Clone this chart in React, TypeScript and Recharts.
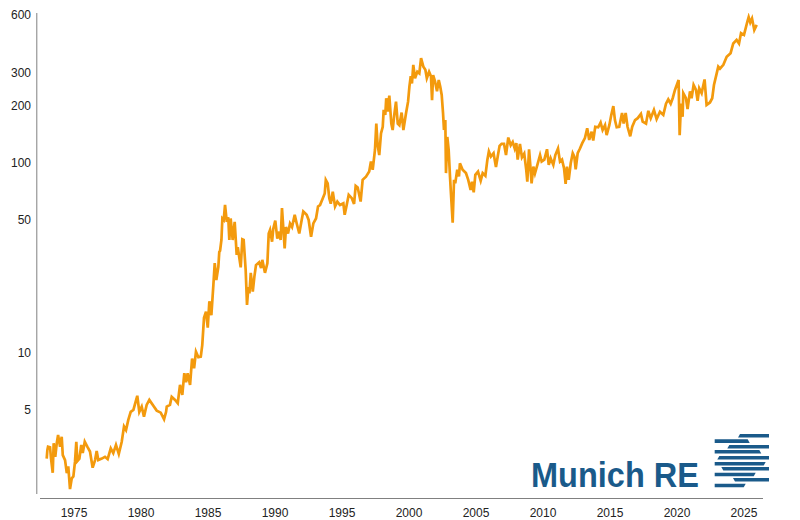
import { LineChart, Line, XAxis, YAxis } from "recharts";

const YEAR_TICKS = [1975, 1980, 1985, 1990, 1995, 2000, 2005, 2010, 2015, 2020, 2025];
const PRICE_TICKS = [5, 10, 50, 100, 200, 300, 600];

const years = [
  1972.96, 1973.01, 1973.06, 1973.21, 1973.28, 1973.41, 1973.48, 1973.6, 1973.71, 1973.81, 1973.96, 1974.08, 1974.16, 1974.33, 1974.46, 1974.57, 1974.7, 1974.83, 1974.95,
  1975.07, 1975.17, 1975.25, 1975.4, 1975.54, 1975.65, 1975.8, 1975.99, 1976.19, 1976.39, 1976.57, 1976.69, 1976.81, 1977.07, 1977.31, 1977.51, 1977.74, 1977.93,
  1978.13, 1978.34, 1978.56, 1978.73, 1978.88, 1979.05, 1979.23, 1979.43, 1979.72, 1979.87, 1980.05, 1980.22, 1980.42, 1980.62, 1980.92, 1981.17, 1981.47, 1981.72, 1981.87,
  1981.92, 1982.16, 1982.29, 1982.54, 1982.74, 1982.91, 1983.08, 1983.23, 1983.36, 1983.48, 1983.66, 1983.81, 1983.96, 1984.1, 1984.28, 1984.46, 1984.57, 1984.7, 1984.85, 1984.98,
  1985.1, 1985.25, 1985.4, 1985.5, 1985.62, 1985.77, 1985.84, 1985.9, 1986.0, 1986.07, 1986.17, 1986.27, 1986.4, 1986.51, 1986.59, 1986.69, 1986.84, 1986.99,
  1987.14, 1987.22, 1987.44, 1987.56, 1987.66, 1987.81, 1987.91, 1988.01, 1988.09, 1988.19, 1988.34, 1988.46, 1988.58, 1988.81, 1988.96, 1989.05, 1989.25, 1989.43, 1989.53, 1989.63, 1989.78, 1989.87,
  1990.02, 1990.17, 1990.32, 1990.42, 1990.52, 1990.72, 1990.82, 1990.97, 1991.12, 1991.27, 1991.47, 1991.62, 1991.81, 1991.99, 1992.11, 1992.36, 1992.51, 1992.69, 1992.86,
  1993.06, 1993.21, 1993.36, 1993.56, 1993.71, 1993.79, 1993.93, 1994.05, 1994.16, 1994.31, 1994.48, 1994.65, 1994.85, 1995.1, 1995.2, 1995.35, 1995.5, 1995.73, 1995.9,
  1996.02, 1996.17, 1996.39, 1996.54, 1996.79, 1997.03, 1997.16, 1997.29, 1997.46, 1997.56, 1997.66, 1997.78, 1997.91, 1998.04, 1998.11, 1998.23, 1998.3, 1998.41, 1998.53, 1998.68, 1998.78, 1998.9,
  1999.03, 1999.16, 1999.28, 1999.45, 1999.58, 1999.78, 1999.93, 2000.03, 2000.13, 2000.22, 2000.32, 2000.45, 2000.62, 2000.77, 2000.9,
  2001.07, 2001.22, 2001.33, 2001.5, 2001.64, 2001.72, 2001.8, 2001.94, 2002.09, 2002.22, 2002.33, 2002.44, 2002.54, 2002.61, 2002.71, 2002.76, 2002.86, 2002.96,
  2003.06, 2003.13, 2003.26, 2003.36, 2003.45, 2003.6, 2003.73, 2003.8, 2004.0, 2004.25, 2004.42, 2004.6, 2004.7, 2004.83, 2004.95, 2005.15, 2005.35, 2005.5, 2005.7, 2005.85, 2005.96,
  2006.11, 2006.31, 2006.49, 2006.64, 2006.76, 2006.91, 2007.09, 2007.24, 2007.41, 2007.59, 2007.74, 2007.89, 2008.01, 2008.11, 2008.28, 2008.43, 2008.6, 2008.75, 2008.83, 2008.96,
  2009.05, 2009.15, 2009.28, 2009.4, 2009.58, 2009.78, 2009.9, 2010.1, 2010.3, 2010.43, 2010.57, 2010.77, 2010.92, 2011.12, 2011.27, 2011.42, 2011.57, 2011.69, 2011.79, 2011.92,
  2012.07, 2012.22, 2012.34, 2012.44, 2012.59, 2012.76, 2012.93, 2013.13, 2013.3, 2013.45, 2013.63, 2013.75, 2013.9, 2014.12, 2014.3, 2014.45, 2014.63, 2014.75, 2014.95,
  2015.1, 2015.25, 2015.37, 2015.5, 2015.69, 2015.9, 2016.02, 2016.17, 2016.31, 2016.51, 2016.66, 2016.87, 2017.07, 2017.31, 2017.44, 2017.69, 2017.86,
  2018.04, 2018.28, 2018.48, 2018.73, 2018.98, 2019.18, 2019.35, 2019.53, 2019.68, 2019.85, 2020.12, 2020.2, 2020.3, 2020.42, 2020.47, 2020.67, 2020.79, 2020.97,
  2021.09, 2021.24, 2021.42, 2021.54, 2021.66, 2021.84, 2022.06, 2022.21, 2022.46, 2022.63, 2022.76, 2022.96, 2023.08, 2023.21, 2023.46, 2023.71,
  2024.0, 2024.2, 2024.45, 2024.63, 2024.78, 2025.0, 2025.25, 2025.35, 2025.47, 2025.6, 2025.77, 2025.95,
];

const prices = [
  2.78, 3.09, 3.21, 3.19, 2.8, 2.34, 3.35, 2.84, 3.35, 3.7, 3.21, 3.62, 2.9, 2.73, 2.33, 2.53, 1.92, 2.19, 2.24,
  2.67, 3.41, 2.7, 2.78, 3.28, 2.97, 3.41, 3.21, 3.03, 2.49, 2.73, 3.05, 2.73, 2.78, 2.84, 2.76, 3.15, 2.97,
  3.28, 2.94, 3.41, 4.1, 3.93, 4.44, 4.9, 5.01, 5.95, 4.9, 5.22, 4.62, 5.33, 5.66, 5.27, 4.97, 4.85, 4.48, 4.9,
  5.22, 5.33, 5.88, 5.66, 5.44, 6.79, 6.01, 7.82, 7.02, 7.82, 6.79, 9.35, 8.3, 10.15, 9.5, 9.56, 11.0, 15.3, 16.5, 13.6,
  18.7, 15.8, 22.8, 29.7, 24.2, 28.4, 34, 34.5, 39.3, 51, 50.1, 60.1, 49, 51.8, 39.3, 51, 39.3, 49,
  32.8, 36, 28.2, 39.6, 39.3, 27.3, 17.9, 22.2, 20.6, 26.4, 21, 25.2, 29, 30, 28, 30.9, 26.4, 29.6, 42.5, 44.4, 38.5, 45,
  49.7, 40, 43.5, 39.3, 57.8, 35.5, 46, 42.5, 48, 46, 53.3, 48, 42.5, 50, 55.5, 53.3, 50.1, 40.9, 48,
  51, 59, 60, 65, 69, 81.4, 78, 65.2, 61, 70.6, 59, 62.6, 60, 61.3, 53.3, 60, 67.9, 65.2, 60.8,
  75.7, 74.2, 62.6, 81.4, 84.7, 90, 101.6, 92, 117, 161, 124, 110, 143, 155, 190, 179, 219, 186, 226, 161, 149, 179,
  210, 161, 158, 184, 149, 183, 210, 252, 286, 262, 328, 279, 302, 296, 356,
  321, 309, 279, 302, 286, 214, 290, 269, 238, 273, 252, 228, 183, 149, 168, 88.4, 137, 117,
  84.7, 69, 48.5, 81.4, 78, 92, 85, 99.6, 92, 88.4, 81.4, 72, 79.7, 70, 86.5, 90, 80.6, 88.4, 85.6, 104, 115,
  108, 112.5, 95, 110, 123, 126, 126, 110, 136, 124, 129, 119, 127, 104, 126, 107, 112, 92, 79.7, 118,
  97.6, 78, 95.6, 88, 97.6, 110, 101.6, 104, 118, 97.6, 105.8, 97.6, 110, 119, 101.6, 104, 93.8, 77.5, 95.6, 81.4,
  99.6, 112.5, 108, 92.6, 112.5, 119, 127, 135, 152, 132, 146, 131, 155, 154, 163, 149, 158, 140, 158,
  179, 199, 168, 154, 155, 183, 161, 183, 155, 138, 155, 168, 172, 181, 165, 161, 188,
  172, 190, 170, 186, 179, 205, 216, 205, 219, 242, 273, 140, 205, 175, 233, 219, 192, 238,
  219, 257, 242, 212, 247, 233, 275, 202, 208, 219, 257, 295, 321, 313, 328, 362,
  378, 425, 444, 425, 482, 472, 553, 585, 548, 575, 501, 533,
];

const chartData = years.map((year, i) => ({ year, price: prices[i] }));

// left edge, right edge, top of each logo stripe; ends are cut at a slant
const LOGO_STRIPES = [
  [738, 769, 434],
  [714.7, 749.7, 439.3],
  [727.3, 769, 445],
  [714.7, 761.3, 450],
  [717.3, 769, 456],
  [714.7, 765.7, 462],
  [721.3, 769, 467],
  [714.7, 755.7, 472.7],
  [733, 769, 478],
  [714.7, 745.7, 483.7],
];

const tickStyle = { fontFamily: "Liberation Sans, Arial, sans-serif", fontSize: 12, fill: "#222" };

function Logo() {
  return (
    <svg width={800} height={520} style={{ position: "absolute", left: 0, top: 0, pointerEvents: "none" }}>
      <text
        x={531}
        y={486.7}
        fontFamily="Liberation Sans, Arial, sans-serif"
        fontWeight="bold"
        fontSize={35}
        fill="#1a5a8a"
        textLength={168}
        lengthAdjust="spacingAndGlyphs"
      >
        Munich RE
      </text>
      {LOGO_STRIPES.map(([a, b, y], i) => {
        const h = 3.6;
        // left-anchored stripes are cut on the right, right-anchored ones on the left
        const pts =
          i % 2 === 1
            ? `${a},${y} ${b - (i < 5 ? 2 : 0)},${y} ${b - (i < 5 ? 0 : 2)},${y + h} ${a},${y + h}`
            : `${a + (i < 5 ? 2 : 0)},${y} ${b},${y} ${b},${y + h} ${a + (i < 5 ? 0 : 2)},${y + h}`;
        return <polygon key={i} points={pts} fill="#1a5a8a" />;
      })}
    </svg>
  );
}

export default function App() {
  return (
    <div style={{ position: "absolute", left: 0, top: 0, width: 800, height: 520, background: "#fff" }}>
      <LineChart width={800} height={520} data={chartData} margin={{ top: 13, right: 37, bottom: 0, left: 0 }}>
        <XAxis
          dataKey="year"
          type="number"
          domain={[1972.46, 2026.42]}
          ticks={YEAR_TICKS}
          height={26}
          allowDataOverflow
          axisLine={{ stroke: "#808080", transform: "translate(0 4.5)" }}
          tickLine={false}
          tick={tickStyle}
          tickMargin={8}
          interval={0}
        />
        <YAxis
          type="number"
          scale="log"
          domain={[1.81, 615]}
          ticks={PRICE_TICKS}
          width={40}
          allowDataOverflow
          axisLine={{ stroke: "#808080", transform: "translate(-3.2 0)" }}
          tickLine={false}
          tick={tickStyle}
          tickMargin={3}
          interval={0}
        />
        <Line dataKey="price" type="linear" stroke="#f39a0d" strokeWidth={2.7} dot={false} isAnimationActive={false} />
      </LineChart>
      <Logo />
    </div>
  );
}
